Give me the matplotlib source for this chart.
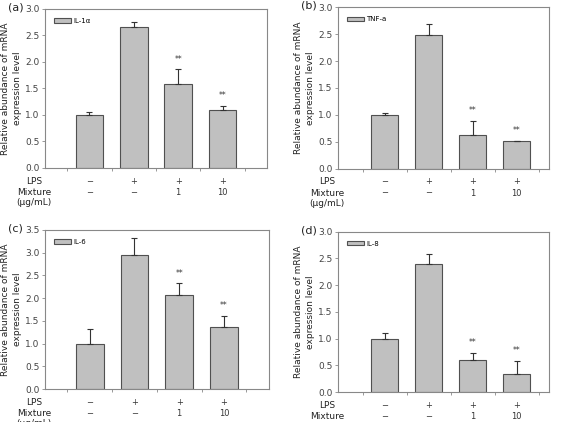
import matplotlib
matplotlib.use('Agg')
import matplotlib.pyplot as plt
import numpy as np

lps = ['\u2212', '+', '+', '+']
mixture = ['\u2212', '\u2212', '1', '10']
sig = ['', '', '**', '**']

il1a_mean = [1.00, 2.66, 1.58, 1.10]
il1a_err = [0.05, 0.10, 0.28, 0.07]
tnfa_mean = [1.00, 2.48, 0.62, 0.51]
tnfa_err = [0.03, 0.21, 0.27, 0.01]
il6_mean = [1.00, 2.95, 2.06, 1.37]
il6_err = [0.32, 0.37, 0.27, 0.24]
il8_mean = [1.00, 2.40, 0.60, 0.34]
il8_err = [0.11, 0.18, 0.13, 0.24]

panels = [
    # tag, legend, mean, err, ymax, axes rect [l, b, w, h], xlim
    ('(a)', 'IL-1\u03b1', il1a_mean, il1a_err, 3.0, [0.0796, 0.602, 0.393, 0.377], (-1, 4)),
    ('(b)', 'TNF-a', tnfa_mean, tnfa_err, 3.0, [0.598, 0.600, 0.373, 0.383], (-1.07, 3.73)),
    ('(c)', 'IL-6', il6_mean, il6_err, 3.5, [0.0796, 0.078, 0.396, 0.377], (-1, 4)),
    ('(d)', 'IL-8', il8_mean, il8_err, 3.0, [0.598, 0.071, 0.373, 0.380], (-1.07, 3.73)),
]

fig = plt.figure(figsize=(5.65, 4.22), dpi=100)
x = np.arange(4)

for tag, name, mean, err, ymax, rect, xl in panels:
    ax = fig.add_axes(rect)
    ax.bar(x, mean, width=0.62, color='#c0c0c0', edgecolor='#505050',
           linewidth=0.8, label=name, zorder=2)
    ax.errorbar(x, mean, yerr=[np.zeros(4), err], fmt='none', ecolor='#333333',
                elinewidth=0.8, capsize=2.5, capthick=0.8, zorder=3)
    for i in range(4):
        if sig[i]:
            ax.text(x[i], mean[i] + err[i] + 0.035 * ymax, sig[i], ha='center',
                    va='bottom', fontsize=5.5, color='#333333')
    ax.set_xlim(*xl)
    ax.set_ylim(0, ymax)
    ax.set_yticks(np.arange(0, ymax + 0.01, 0.5))
    ax.set_yticklabels(['%.1f' % v for v in np.arange(0, ymax + 0.01, 0.5)])
    ax.set_xticks(np.arange(-0.5, 4, 1.0))
    ax.set_xticklabels([])
    ax.tick_params(axis='x', length=2, width=0.6, colors='#888888')
    ax.tick_params(axis='y', length=2, width=0.6, colors='#888888',
                   labelsize=6.5, labelcolor='#444444', pad=2)
    for s in ax.spines.values():
        s.set_color('#888888')
        s.set_linewidth(0.8)
    ax.set_ylabel('Relative abundance of mRNA\nexpression level', fontsize=6.5,
                  linespacing=1.5, color='#222222', labelpad=2)
    ax.legend(loc='upper left', fontsize=5, frameon=False, handlelength=2.4,
              handleheight=0.6, borderaxespad=0.9, handletextpad=0.4)

    # condition rows under the axis
    rows = [('LPS', lps, 9.5), ('Mixture', mixture, 17.5), ('(\u03bcg/mL)', None, 25)]
    for label, vals, dy in rows:
        ax.annotate(label, xy=(0, 0), xycoords='axes fraction',
                    xytext=(-8, -dy), textcoords='offset points',
                    ha='center', va='center', fontsize=6.5, color='#222222',
                    annotation_clip=False)
        if vals is None:
            continue
        for i in range(4):
            ax.annotate(vals[i], xy=(x[i], 0), xycoords=('data', 'axes fraction'),
                        xytext=(0, -dy), textcoords='offset points',
                        ha='center', va='center', fontsize=6, color='#333333',
                        annotation_clip=False)

    fig.text(rect[0] - 0.052, rect[1] + rect[3] + 0.003, tag, fontsize=8,
             ha='center', va='center', color='#222222')

fig.savefig('out.png', dpi=100)
